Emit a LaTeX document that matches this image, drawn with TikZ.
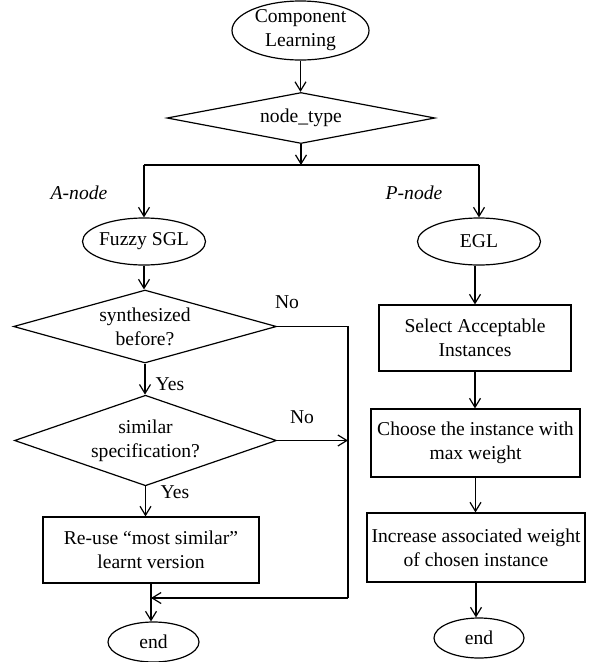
\documentclass[tikz,border=0pt]{standalone}
\usepackage{fontspec}
\setmainfont{Liberation Serif}
\usetikzlibrary{shapes.geometric,arrows.meta}
\begin{document}
\begin{tikzpicture}[x=1pt,y=-1pt,
  every node/.style={font=\fontsize{19.6}{24}\selectfont},
  ell/.style={draw,ellipse,inner sep=-10pt,align=center},
  dia/.style={draw,diamond,inner sep=-15pt,align=center},
  pbox/.style={draw,rectangle,inner sep=0pt,align=center},
  lab/.style={inner sep=0pt},
  arr/.style={-{Straight Barb[length=9pt,width=11pt]}},
  line width=1.2pt]
\useasboundingbox (0,0) rectangle (595,662);
% top
\node[ell,minimum width=137pt,minimum height=59pt] (comp) at (300.5,30.5) {Component\\Learning};
\node[dia,minimum width=268pt,minimum height=51pt] (nt) at (301,118) {node\_type};
\coordinate (split) at (301,165);
\coordinate (sl) at (144,165);
\coordinate (sr) at (479,165);
\node[lab] (an) at (79,193) {\itshape A-node};
\node[lab] (pn) at (414,193) {\itshape P-node};
\node[ell,minimum width=123pt,minimum height=47pt] (fz) at (144,241.5) {Fuzzy SGL};
\node[ell,minimum width=123pt,minimum height=47pt] (egl) at (479,241.5) {EGL};
% left column
\node[dia,minimum width=263pt,minimum height=73pt] (d1) at (145,326.5) {synthesized\\before?};
\node[dia,minimum width=262pt,minimum height=74pt] (d2) at (145.5,440.5) {similar\\specification?};
\node[pbox,minimum width=216pt,minimum height=66pt] (reuse) at (151,550) {Re-use “most similar”\\learnt version};
\node[ell,minimum width=91pt,minimum height=40pt] (endl) at (153.5,642) {end};
\node[lab] (no1) at (287,302) {No};
\node[lab] (no2) at (302,417) {No};
\node[lab] (yes1) at (170,384) {Yes};
\node[lab] (yes2) at (175,492) {Yes};
\coordinate (r1) at (348,326.5);
\coordinate (r2) at (348,598);
\coordinate (m) at (151,598);
% right column
\node[pbox,minimum width=192pt,minimum height=66pt] (sel) at (475,338) {Select Acceptable\\Instances};
\node[pbox,minimum width=209pt,minimum height=68pt] (cho) at (475.5,443) {Choose the instance with\\max weight};
\node[pbox,minimum width=218pt,minimum height=69pt] (inc) at (476,547.5) {Increase associated weight\\of chosen instance};
\node[ell,minimum width=90pt,minimum height=40pt] (endr) at (479,638) {end};
% connectors
\draw[arr] (comp.south) -- (comp.south |- nt.north);
\draw[arr] (nt.south) -- (split);
\draw (sl) -- (sr);
\draw[arr] (sl) -- (fz.north);
\draw[arr] (sr) -- (egl.north);
\draw[arr] (fz.south) -- (fz.south |- d1.north);
\draw[arr] (d1.south) -- (d2.north -| d1.south);
\draw[arr] (d2.south) -- (d2.south |- reuse.north);
\draw (d1.east) -- (r1) -- (r2);
\draw[arr] (d2.east) -- (d2.east -| r1);
\draw[arr] (r2) -- (m);
\draw[arr] (reuse.south) -- (reuse.south |- endl.north);
\draw[arr] (egl.south -| sel.north) -- (sel.north);
\draw[arr] (sel.south) -- (sel.south |- cho.north);
\draw[arr] (cho.south) -- (cho.south |- inc.north);
\draw[arr] (inc.south) -- (inc.south |- endr.north);
\end{tikzpicture}
\end{document}
